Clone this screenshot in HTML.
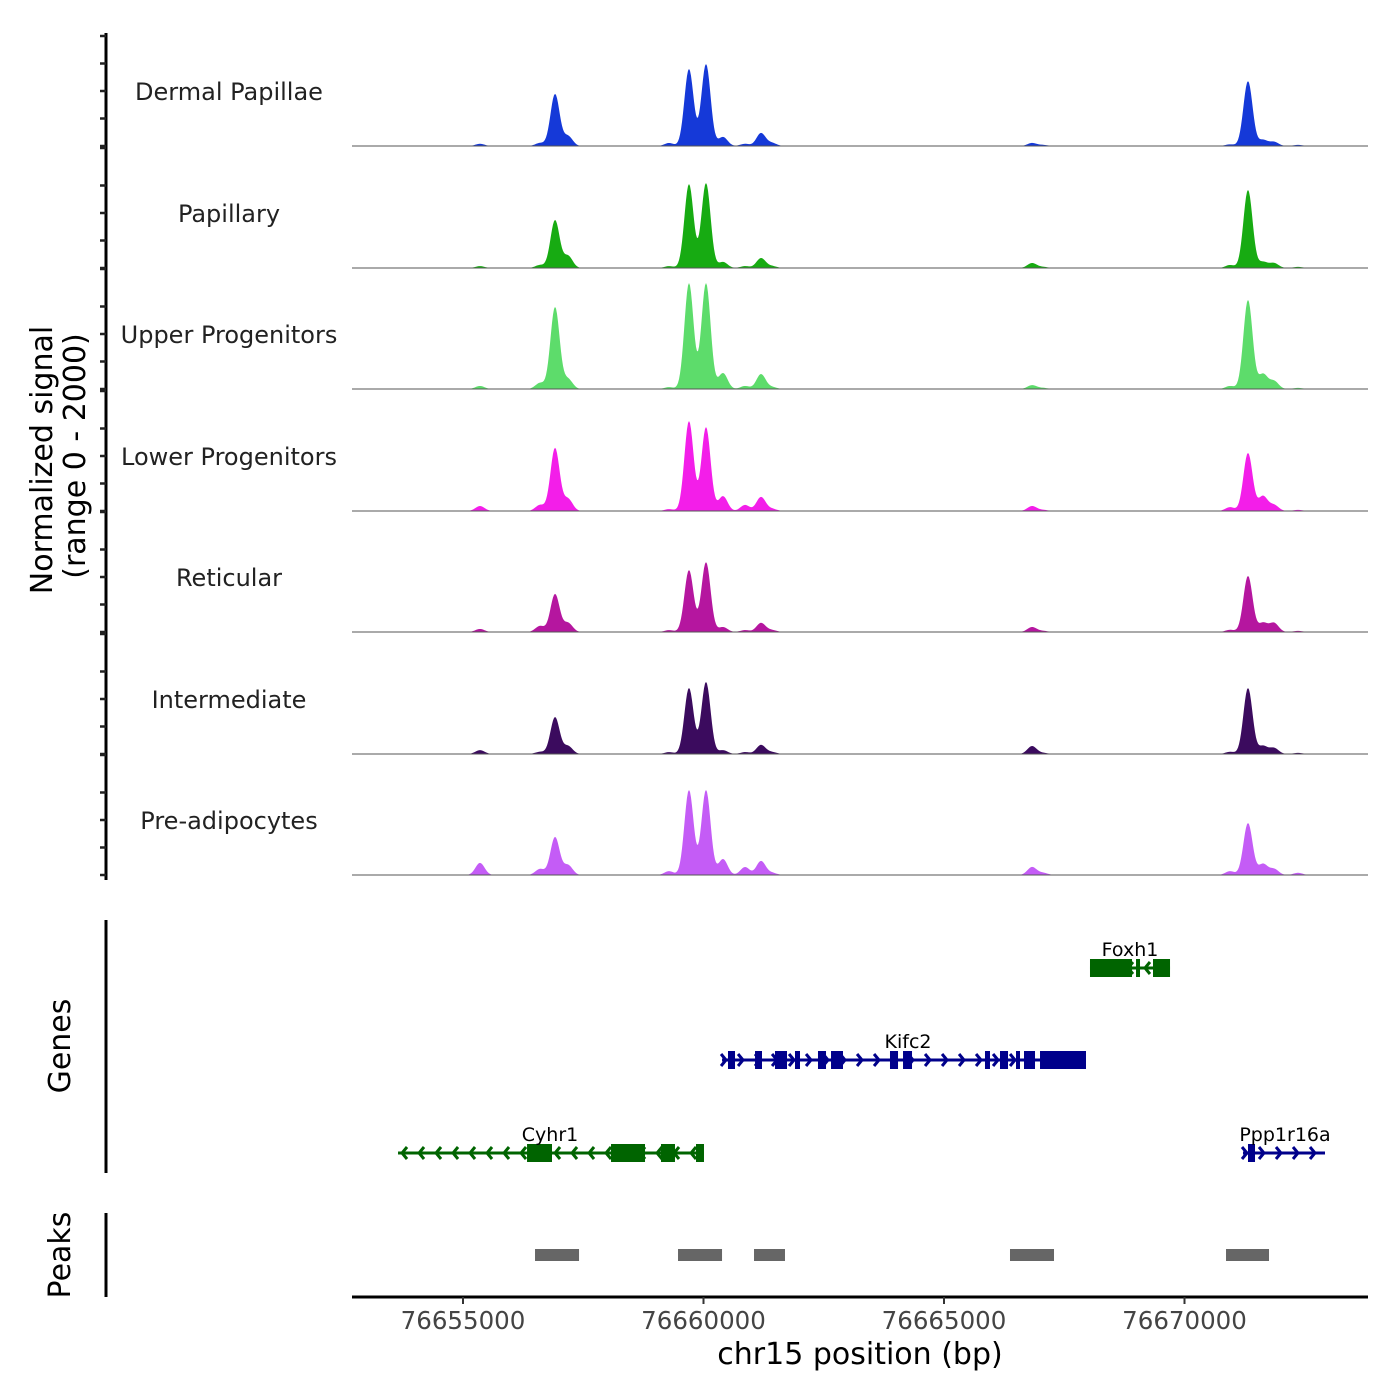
<!DOCTYPE html>
<html><head><meta charset="utf-8"><title>Coverage plot</title>
<style>
body{margin:0;background:#fff;}
svg{display:block;font-family:"DejaVu Sans","Liberation Sans",sans-serif;}
</style></head>
<body>
<svg id="chart" width="1400" height="1400" viewBox="0 0 1400 1400" xmlns="http://www.w3.org/2000/svg">
<rect width="1400" height="1400" fill="#fff"/>
<g id="tracks"></g>
<g id="genes"></g>
<g id="peaks"></g>
<g id="axes"></g>
</svg>
<script>
// ---- data ----
const xDomain = [76652692, 76673815];
const xTicks = [76655000, 76660000, 76665000, 76670000];
const trackNames = ["Dermal Papillae","Papillary","Upper Progenitors","Lower Progenitors","Reticular","Intermediate","Pre-adipocytes"];
const trackColors = ["#1539d8","#17ab12","#5ddc6b","#f31ee9","#b5169f","#3b0b5e","#c45cf6"];
const peakPos = [76655353,76656600,76656913,76657183,76659283,76659698,76660052,76660405,76660863,76661195,76661424,76666830,76667060,76670946,76671320,76671632,76671861,76672360];
// signal values (range 0-2000) per track at peakPos
const sigDermal   = [40,55,945,180,55,1400,1490,165,40,235,55,55,20,30,1180,110,75,20];
const sigPapillary= [35,55,870,220,35,1525,1545,110,35,180,35,90,20,55,1420,110,90,20];
const sigUpper    = [55,110,1490,180,35,1925,1925,290,55,270,35,70,20,55,1620,270,145,20];
const sigLower    = [90,110,1145,220,35,1635,1525,270,110,255,40,90,20,70,1055,270,110,20];
const sigReticular= [55,110,690,165,35,1125,1270,90,35,165,35,90,20,40,1020,165,165,20];
const sigInterm   = [70,40,670,145,35,1200,1310,70,35,165,35,145,20,40,1200,145,110,20];
const sigPreadipo = [220,110,690,180,70,1545,1545,290,145,255,40,145,40,70,945,200,110,40];
const trackSignals = [sigDermal,sigPapillary,sigUpper,sigLower,sigReticular,sigInterm,sigPreadipo];
const geneNames = ["Cyhr1","Kifc2","Foxh1","Ppp1r16a"];
const geneStarts = [76653649,76660385,76668035,76671216];
const geneEnds   = [76660010,76667952,76669699,76672921];
const geneStrands= [-1,1,-1,1];
const geneRows   = [2,1,0,2];
const geneColors = ["#006400","#00008b","#006400","#00008b"];
const geneExons = [
 [[76656331,76656850],[76658077,76658784],[76659116,76659407],[76659844,76660010]],
 [[76660509,76660655],[76661071,76661216],[76661486,76661736],[76661902,76662006],[76662380,76662547],[76662651,76662900],[76663877,76664044],[76664148,76664335],[76665852,76665956],[76666164,76666331],[76666497,76666580],[76666663,76666892],[76666996,76667952]],
 [[76668035,76668909],[76668992,76669075],[76669345,76669699]],
 [[76671320,76671466]]
];
const peakStarts = [76656497,76659470,76661050,76666372,76670863];
const peakEnds   = [76657412,76660385,76661694,76667287,76671757];

// ---- scales ----
const X0=352, X1=1368;
const x = v => X0 + (v - xDomain[0]) / (xDomain[1]-xDomain[0]) * (X1-X0);
const baselines=[146,268,389,511,632,754,875];
const yScale = (b,v) => b - v/2000*110;
const NS="http://www.w3.org/2000/svg";
function mk(tag,attrs,parent,text){const e=document.createElementNS(NS,tag);for(const k in attrs)e.setAttribute(k,attrs[k]);if(text!==undefined)e.textContent=text;parent.appendChild(e);return e;}

// ---- tracks ----
const tg=document.getElementById('tracks');
trackNames.forEach((name,i)=>{
  const b=baselines[i], vals=trackSignals[i];
  const g=mk('g',{},tg);
  
  
  const sig=95; // bp
  let d='M'+X0+','+b;
  for(let px=X0;px<=X1;px+=1){
    const bp=xDomain[0]+(px-X0)/(X1-X0)*(xDomain[1]-xDomain[0]);
    let s=0;
    for(let k=0;k<peakPos.length;k++){const t=(bp-peakPos[k])/sig;s+=vals[k]*Math.exp(-0.5*t*t);}
    d+=' L'+px+','+yScale(b,s).toFixed(2);
  }
  d+=' L'+X1+','+b+' Z';
  const p=mk('path',{d:d,fill:trackColors[i]},g);
  
  
  const l=mk('line',{x1:X0,x2:X1,y1:b,y2:b,stroke:'#555','stroke-width':1},g);
  
  
  const t=mk('text',{x:229,y:b-46,'text-anchor':'middle','font-size':24,fill:'#222'},g,name);
  
  
});

// ---- genes ----
const gg=document.getElementById('genes');
const rowY=[968,1060,1153];
const labelX=[550,908,1130,1285];
geneNames.forEach((n,i)=>{
  const y=rowY[geneRows[i]], c=geneColors[i];
  const g=mk('g',{},gg);
  
  
  const xs=x(geneStarts[i]), xe=x(geneEnds[i]);
  mk('line',{x1:xs,x2:xe,y1:y,y2:y,stroke:c,'stroke-width':3},g);
  for(let ax=xs+4;ax<=xe-2;ax+=17){
    const dir=geneStrands[i];
    mk('polyline',{points:(ax+dir*-5)+','+(y-6)+' '+ax+','+y+' '+(ax+dir*-5)+','+(y+6),fill:'none',stroke:c,'stroke-width':3},g);
  }
  geneExons[i].forEach(e=>{
    const r=mk('rect',{x:x(e[0]),y:y-9,width:Math.max(3,x(e[1])-x(e[0])),height:18,fill:c},g);
    
    
  });
  const t=mk('text',{x:labelX[i],y:y-12,'text-anchor':'middle','font-size':19,fill:'#000'},g,n);
  
  
});

// ---- peaks ----
const pg=document.getElementById('peaks');
peakStarts.forEach((s,i)=>{
  const r=mk('rect',{x:x(s),y:1249,width:x(peakEnds[i])-x(s),height:12,fill:'#666'},pg);
  
  
});

// ---- axes ----
const ag=document.getElementById('axes');
mk('line',{x1:106,x2:106,y1:33,y2:880,stroke:'#000','stroke-width':3},ag);
const tickYs=[];
baselines.forEach((b,i)=>{[0,27.5,55,82.5].forEach(o=>tickYs.push(b-o));tickYs.push(i==0?36:b-120);});
tickYs.forEach(ty=>mk('line',{x1:100,x2:106,y1:ty,y2:ty,stroke:'#222','stroke-width':2.5},ag));
mk('line',{x1:106,x2:106,y1:920,y2:1173,stroke:'#000','stroke-width':3},ag);
mk('line',{x1:106,x2:106,y1:1213,y2:1297,stroke:'#000','stroke-width':3},ag);
mk('line',{x1:X0,x2:X1,y1:1297,y2:1297,stroke:'#000','stroke-width':3},ag);
xTicks.forEach(v=>{
  mk('line',{x1:x(v),x2:x(v),y1:1297,y2:1304,stroke:'#333','stroke-width':2},ag);
  const t=mk('text',{x:x(v),y:1329,'text-anchor':'middle','font-size':24.5,fill:'#444'},ag,String(v));
  
  
});
const xt=mk('text',{x:860,y:1364,'text-anchor':'middle','font-size':30,fill:'#000'},ag,'chr15 position (bp)');


const yt=mk('text',{transform:'translate(52,460) rotate(-90)','text-anchor':'middle','font-size':30,fill:'#000'},ag,'Normalized signal');


const yt2=mk('text',{transform:'translate(85,456) rotate(-90)','text-anchor':'middle','font-size':30,fill:'#000'},ag,'(range 0 - 2000)');


const gt=mk('text',{transform:'translate(70,1046) rotate(-90)','text-anchor':'middle','font-size':30,fill:'#000'},ag,'Genes');


const pt=mk('text',{transform:'translate(70,1255) rotate(-90)','text-anchor':'middle','font-size':30,fill:'#000'},ag,'Peaks');


</script>
</body></html>
